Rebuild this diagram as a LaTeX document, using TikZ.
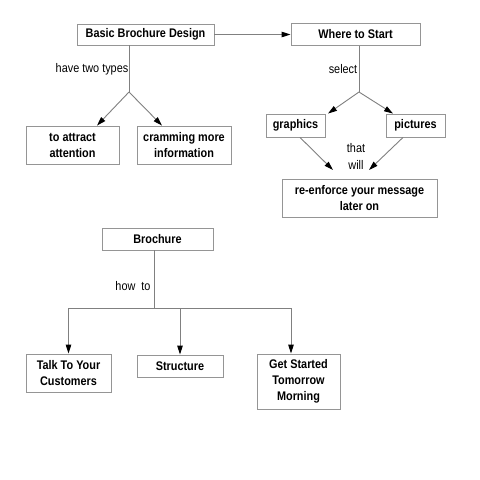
\documentclass[tikz,border=0pt]{standalone}
\usepackage{fontspec}
\setmainfont{Liberation Sans}[FakeStretch=0.87]
\usetikzlibrary{arrows.meta}
\definecolor{lineg}{HTML}{808080}
\definecolor{boxg}{HTML}{959595}
\begin{document}
\begin{tikzpicture}[x=1pt,y=-1pt,
  box/.style={draw=boxg,line width=0.9pt,fill=white,rectangle,inner sep=0pt,align=center,
    font=\fontsize{12.5}{16}\selectfont\bfseries},
  lbl/.style={inner sep=0pt,font=\fontsize{12.5}{16}\selectfont},
  conn/.style={draw=lineg,line width=0.9pt},
  arr/.style={conn,-{Triangle[black,length=9pt,width=5.5pt]}}]
\useasboundingbox[fill=white] (0,0) rectangle (480,480);
% nodes
\node[box,minimum width=137pt,minimum height=21pt] (bbd) at (145.5,34.5) {Basic Brochure Design};
\node[box,minimum width=129pt,minimum height=22pt] (wts) at (355.5,34.5) {Where to Start};
\node[box,minimum width=93pt,minimum height=38pt] (att) at (72.5,145) {to attract\\attention};
\node[box,minimum width=94pt,minimum height=38pt] (cram) at (184,145) {cramming more\\information};
\node[box,minimum width=59pt,minimum height=23pt] (gra) at (295.5,125.5) {graphics};
\node[box,minimum width=59pt,minimum height=23pt] (pic) at (415.5,125.5) {pictures};
\node[box,minimum width=155pt,minimum height=38pt] (reen) at (359.5,198) {re-enforce your message\\later on};
\node[box,minimum width=111pt,minimum height=22pt] (bro) at (157.5,239) {Brochure};
\node[box,minimum width=85pt,minimum height=38pt] (talk) at (68.5,373) {Talk To Your\\Customers};
\node[box,minimum width=86pt,minimum height=22pt] (struc) at (180,366) {Structure};
\node[box,minimum width=83pt,minimum height=55pt] (get) at (298.5,381.5) {Get Started\\Tomorrow\\Morning};
% labels
\node[lbl] (l1) at (92,69) {have two types};
\node[lbl] (l2) at (343,69) {select};
\node[lbl] (l3) at (356,148) {that};
\node[lbl] (l4) at (356,165) {will};
\node[lbl] (l5) at (133,286) {how\ \ to};
% junctions
\coordinate (j1) at (129,92);
\coordinate (j2) at (359,92);
\coordinate (j3) at (154,308);
\coordinate (e1) at (333,170);
\coordinate (e2) at (369,170);
% connectors
\draw[arr] (bbd.east) -- (wts.west);
\draw[conn] (bbd.south -| j1) -- (j1);
\draw[arr] (j1) -- ([xshift=24.5pt]att.north);
\draw[arr] (j1) -- ([xshift=-22pt]cram.north);
\draw[conn] (wts.south -| j2) -- (j2);
\draw[arr] (j2) -- ([xshift=32.5pt]gra.north);
\draw[arr] (j2) -- ([xshift=-22.5pt]pic.north);
\draw[arr] ([xshift=4.5pt]gra.south) -- (e1);
\draw[arr] ([xshift=-12.5pt]pic.south) -- (e2);
\draw[conn] (bro.south -| j3) -- (j3);
\draw[conn] (j3 -| talk.north) -- ([xshift=-7.5pt]j3 -| get.north);
\draw[arr] (j3 -| talk.north) -- (talk.north);
\draw[arr] (j3 -| struc.north) -- (struc.north);
\draw[arr] ([xshift=-7.5pt]j3 -| get.north) -- ([xshift=-7.5pt]get.north);
\end{tikzpicture}
\end{document}
